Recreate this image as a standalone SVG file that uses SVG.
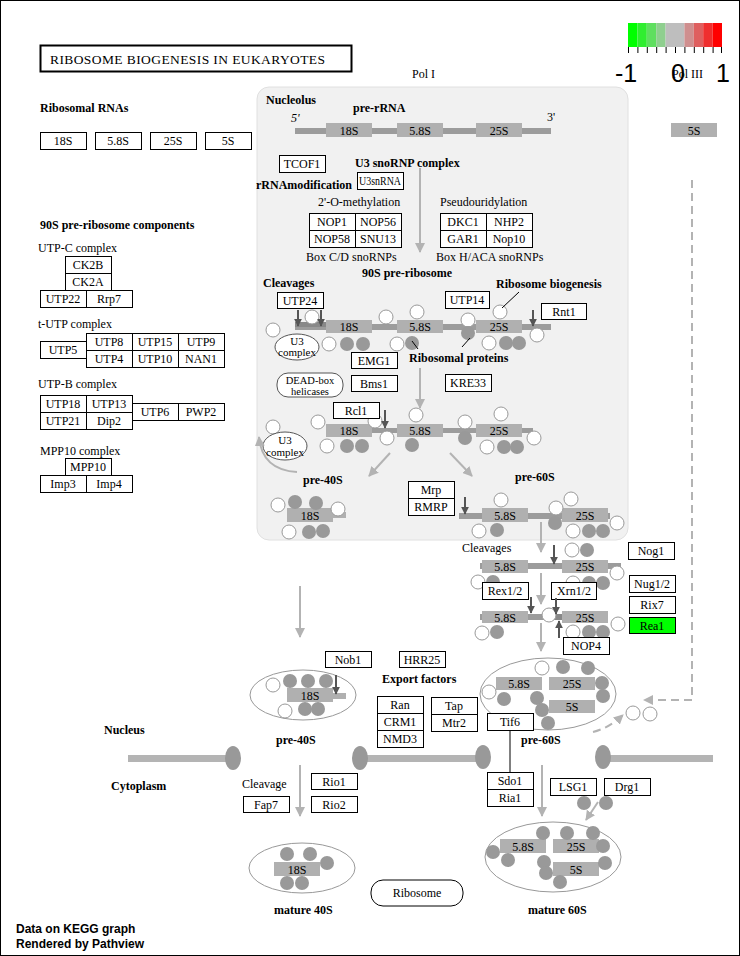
<svg xmlns="http://www.w3.org/2000/svg" width="740" height="956" viewBox="0 0 740 956">
<style>
text{font-family:"Liberation Serif",serif;font-size:12px;fill:#000}
.b{font-weight:bold}
.m{text-anchor:middle}
.s11{font-size:11px}
.s10{font-size:10.5px}
.gene rect{fill:#fff;stroke:#000;stroke-width:1}
.rna{fill:#b0b0b0}
.ln{fill:#9c9c9c}
.wc{fill:#fff;stroke:#999;stroke-width:1}
.gc{fill:#999}
.ga{stroke:#b3b3b3;stroke-width:2;fill:none;marker-end:url(#gah)}
.gd{stroke:#b3b3b3;stroke-width:2;fill:none;stroke-dasharray:8 5;marker-end:url(#gah)}
.da{stroke:#555;stroke-width:2;fill:none;marker-end:url(#dah)}
.el{fill:none;stroke:#999;stroke-width:1}
.sans{font-family:"Liberation Sans",Arial,sans-serif}
.leg{font-family:"Liberation Sans",Arial,sans-serif;font-size:25px;text-anchor:middle}
</style>
<defs>
<marker id="gah" viewBox="0 0 10 10" refX="9" refY="5" markerWidth="5" markerHeight="5" orient="auto"><path d="M0,0 L10,5 L0,10 z" fill="#b3b3b3"/></marker>
<marker id="dah" viewBox="0 0 10 10" refX="9" refY="5" markerWidth="4" markerHeight="4" orient="auto"><path d="M0,0 L10,5 L0,10 z" fill="#555"/></marker>
</defs>
<rect x="0.5" y="0.5" width="739" height="955" fill="#fff" stroke="#000"/>

<!-- Nucleolus compartment -->
<rect x="257" y="87" width="371" height="453" rx="12" fill="#f1f1f1" stroke="#e0e0e0"/>

<!-- Title -->
<g id="title"><rect x="40.5" y="45.5" width="311" height="26" fill="#fff" stroke="#000" stroke-width="2"/>
<text x="50" y="64" style="font-size:13.5px" textLength="275" lengthAdjust="spacing">RIBOSOME  BIOGENESIS  IN  EUKARYOTES</text></g>

<!-- Legend -->
<g id="legend">
<rect x="628" y="23" width="9.4" height="24" fill="#00ff00"/>
<rect x="637.4" y="23" width="9.4" height="24" fill="#30ee30"/>
<rect x="646.8" y="23" width="9.4" height="24" fill="#5fdf5f"/>
<rect x="656.2" y="23" width="9.4" height="24" fill="#8fcf8f"/>
<rect x="665.6" y="23" width="9.4" height="24" fill="#bebebe"/>
<rect x="675" y="23" width="9.4" height="24" fill="#bebebe"/>
<rect x="684.4" y="23" width="9.4" height="24" fill="#cf8f8f"/>
<rect x="693.8" y="23" width="9.4" height="24" fill="#df5f5f"/>
<rect x="703.2" y="23" width="9.4" height="24" fill="#ef2f2f"/>
<rect x="712.6" y="23" width="9.4" height="24" fill="#ff0000"/>
<path d="M628.5,47V53M637.9,47V53M647.3,47V53M656.7,47V53M666.1,47V53M675.5,47V53M684.9,47V53M694.3,47V53M703.7,47V53M713.1,47V53M721.5,47V53" stroke="#000" stroke-width="1"/>
<text class="leg" x="626" y="82">-1</text>
<text class="leg" x="678" y="82">0</text>
<text class="leg" x="723" y="82">1</text>
</g>

<!-- Labels -->
<text x="412" y="78">Pol I</text>
<text x="672" y="78">Pol III</text>
<text class="b" x="40" y="112">Ribosomal RNAs</text>
<text class="b" x="40" y="229">90S pre-ribosome components</text>
<text x="38" y="252">UTP-C complex</text>
<text x="38" y="328">t-UTP complex</text>
<text x="38" y="388">UTP-B complex</text>
<text x="40" y="455">MPP10 complex</text>
<text class="b" x="266" y="104">Nucleolus</text>
<text class="b" x="353" y="112">pre-rRNA</text>
<text x="291" y="122" font-style="italic">5'</text>
<text x="547" y="121">3'</text>
<text class="b" x="355" y="167">U3 snoRNP complex</text>
<text class="b" x="256" y="189">rRNAmodification</text>
<text x="318" y="206">2'-O-methylation</text>
<text x="440" y="206">Pseudouridylation</text>
<text x="306" y="261">Box C/D snoRNPs</text>
<text x="436" y="261">Box H/ACA snoRNPs</text>
<text class="b" x="362" y="277">90S pre-ribosome</text>
<text class="b" x="263" y="287">Cleavages</text>
<text class="b" x="496" y="288">Ribosome biogenesis</text>
<text class="b" x="409" y="362">Ribosomal proteins</text>
<text class="b" x="303" y="484">pre-40S</text>
<text class="b" x="515" y="481">pre-60S</text>
<text x="462" y="552">Cleavages</text>
<text class="b" x="382" y="683">Export factors</text>
<text class="b" x="276" y="744">pre-40S</text>
<text class="b" x="521" y="744">pre-60S</text>
<text class="b" x="104" y="734">Nucleus</text>
<text class="b" x="111" y="790">Cytoplasm</text>
<text x="242" y="788">Cleavage</text>
<text class="b" x="274" y="914">mature 40S</text>
<text class="b" x="528" y="914">mature 60S</text>
<text class="sans b" x="16" y="933" fill="#111">Data on KEGG graph</text>
<text class="sans b" x="16" y="948" fill="#111">Rendered by Pathview</text>

<!-- rRNA structures -->
<g id="prerRNA">
<rect class="ln" x="295" y="128" width="256" height="6"/>
<rect class="rna" x="326" y="123" width="46" height="14"/><text class="m" x="349" y="135">18S</text>
<rect class="rna" x="397" y="123" width="46" height="14"/><text class="m" x="420" y="135">5.8S</text>
<rect class="rna" x="476" y="123" width="46" height="14"/><text class="m" x="499" y="135">25S</text>
</g>
<g id="polIII5S"><rect class="rna" x="671" y="123" width="46" height="14"/><text class="m" x="694" y="135">5S</text></g>

<!-- 90S row 1 -->
<g id="row90S">
<rect class="ln" x="295" y="324" width="256" height="6"/>
<rect x="295" y="322" width="31" height="5" fill="#888"/>
<rect class="rna" x="326" y="320" width="46" height="13"/><text class="m" x="349" y="331">18S</text>
<rect class="rna" x="397" y="320" width="46" height="13"/><text class="m" x="420" y="331">5.8S</text>
<rect class="rna" x="476" y="320" width="46" height="13"/><text class="m" x="499" y="331">25S</text>
<circle class="wc" cx="273" cy="330" r="7"/><circle class="wc" cx="312" cy="317" r="7"/>
<circle class="wc" cx="386" cy="317" r="7"/><circle class="wc" cx="417" cy="312" r="7"/>
<circle class="wc" cx="468" cy="320" r="7"/><circle class="wc" cx="500" cy="312" r="7"/>
<circle class="gc" cx="468" cy="333" r="7"/>
<circle class="wc" cx="329" cy="344" r="7"/><circle class="gc" cx="347" cy="344" r="7"/><circle class="gc" cx="363" cy="344" r="7"/>
<circle class="wc" cx="397" cy="344" r="7"/><circle class="gc" cx="412" cy="343" r="7"/>
<circle class="wc" cx="489" cy="343" r="7"/><circle class="gc" cx="506" cy="343" r="7"/><circle class="gc" cx="519" cy="343" r="7"/>
<circle class="wc" cx="537" cy="335" r="7"/>
</g>
<g id="u3c1"><ellipse cx="297" cy="347" rx="22" ry="13" fill="#fff" stroke="#555"/><text class="m s11" x="297" y="345">U3</text><text class="m s11" x="297" y="356">complex</text></g>
<g id="deadbox"><rect x="277" y="373" width="66" height="24" rx="11" fill="#fff" stroke="#555"/><text class="m s10" x="310" y="384">DEAD-box</text><text class="m s10" x="310" y="395">helicases</text></g>

<!-- row 2 -->
<g id="row2">
<rect class="ln" x="372" y="428" width="161" height="5"/>
<rect class="rna" x="326" y="424" width="46" height="13"/><text class="m" x="349" y="435">18S</text>
<rect class="rna" x="397" y="424" width="46" height="13"/><text class="m" x="420" y="435">5.8S</text>
<rect class="rna" x="476" y="424" width="46" height="13"/><text class="m" x="499" y="435">25S</text>
<circle class="wc" cx="318" cy="422" r="7"/><circle class="wc" cx="273" cy="427" r="7"/>
<circle class="wc" cx="375" cy="421" r="7"/><circle class="wc" cx="387" cy="438" r="7"/>
<circle class="wc" cx="416" cy="415" r="7"/><circle class="gc" cx="412" cy="445" r="7"/>
<circle class="wc" cx="327" cy="446" r="7"/><circle class="gc" cx="347" cy="446" r="7"/><circle class="gc" cx="362" cy="446" r="7"/>
<circle class="wc" cx="465" cy="422" r="7"/><circle class="gc" cx="465" cy="438" r="7"/>
<circle class="wc" cx="501" cy="414" r="7"/>
<circle class="wc" cx="487" cy="447" r="7"/><circle class="gc" cx="504" cy="447" r="7"/><circle class="gc" cx="517" cy="447" r="7"/>
<circle class="wc" cx="534" cy="438" r="7"/>
</g>
<g id="u3c2"><ellipse cx="285" cy="446" rx="22" ry="14" fill="#fff" stroke="#555"/><text class="m s11" x="285" y="444">U3</text><text class="m s11" x="285" y="456">complex</text></g>

<!-- pre-40S nucleolus -->
<g id="pre40Snuc">
<rect class="rna" x="333" y="512" width="13" height="6"/>
<rect class="rna" x="287" y="508" width="46" height="14"/><text class="m" x="310" y="520">18S</text>
<circle class="wc" cx="278" cy="505" r="7"/><circle class="gc" cx="295" cy="502" r="7"/><circle class="gc" cx="316" cy="503" r="7"/><circle class="wc" cx="338" cy="509" r="7"/>
<circle class="wc" cx="289" cy="532" r="7"/><circle class="gc" cx="309" cy="532" r="7"/><circle class="gc" cx="323" cy="531" r="7"/>
</g>
<!-- pre-60S nucleolus -->
<g id="pre60Snuc">
<rect class="ln" x="459" y="513" width="151" height="6"/>
<rect class="rna" x="482" y="508" width="46" height="14"/><text class="m" x="505" y="520">5.8S</text>
<rect class="rna" x="562" y="508" width="46" height="14"/><text class="m" x="585" y="520">25S</text>
<circle class="wc" cx="501" cy="500" r="7"/><circle class="wc" cx="556" cy="508" r="7"/><circle class="wc" cx="571" cy="499" r="7"/>
<circle class="gc" cx="555" cy="523" r="7"/><circle class="wc" cx="617" cy="523" r="7"/>
<circle class="wc" cx="479" cy="531" r="7"/><circle class="gc" cx="497" cy="530" r="7"/>
<circle class="wc" cx="573" cy="531" r="7"/><circle class="gc" cx="589" cy="531" r="7"/><circle class="gc" cx="603" cy="531" r="7"/>
</g>

<!-- nuclear pre-60S rows -->
<g id="rowA">
<rect class="ln" x="480" y="563" width="141" height="6"/>
<rect class="rna" x="482" y="560" width="46" height="13"/><text class="m" x="505" y="571">5.8S</text>
<rect class="rna" x="562" y="560" width="46" height="13"/><text class="m" x="585" y="571">25S</text>
<circle class="wc" cx="572" cy="550" r="7"/><circle class="gc" cx="587" cy="550" r="7"/><circle class="wc" cx="617" cy="573" r="7"/>
<circle class="wc" cx="478" cy="582" r="7"/><circle class="gc" cx="493" cy="582" r="7"/>
<circle class="wc" cx="573" cy="583" r="7"/><circle class="gc" cx="589" cy="583" r="7"/><circle class="gc" cx="603" cy="583" r="7"/>
</g>
<g id="rowB">
<rect class="ln" x="480" y="614" width="71" height="6"/>
<rect x="551" y="614" width="11" height="6" fill="#888"/>
<rect class="rna" x="482" y="611" width="46" height="12"/><text class="m" x="505" y="622">5.8S</text>
<rect class="rna" x="562" y="611" width="46" height="12"/><text class="m" x="585" y="622">25S</text>
<circle class="wc" cx="549" cy="615" r="7"/><circle class="wc" cx="618" cy="624" r="7"/>
<circle class="wc" cx="482" cy="633" r="7"/><circle class="gc" cx="497" cy="632" r="7"/>
<circle class="wc" cx="573" cy="632" r="7"/><circle class="gc" cx="589" cy="632" r="7"/><circle class="gc" cx="603" cy="632" r="7"/>
</g>

<!-- nuclear pre-40S -->
<g id="pre40S">
<ellipse class="el" cx="303" cy="695" rx="53" ry="25"/>
<rect class="rna" x="333" y="693" width="13" height="6"/>
<rect class="rna" x="287" y="688" width="46" height="14"/><text class="m" x="310" y="700">18S</text>
<circle class="wc" cx="273" cy="685" r="7"/><circle class="gc" cx="290" cy="681" r="7"/><circle class="gc" cx="308" cy="681" r="7"/><circle class="gc" cx="326" cy="681" r="7"/>
<circle class="wc" cx="285" cy="711" r="7"/><circle class="gc" cx="305" cy="709" r="7"/><circle class="gc" cx="318" cy="709" r="7"/>
</g>
<!-- nuclear pre-60S -->
<g id="pre60S">
<ellipse class="el" cx="548" cy="694" rx="68" ry="36"/>
<rect class="rna" x="496" y="677" width="46" height="13"/><text class="m" x="519" y="688">5.8S</text>
<rect class="rna" x="549" y="677" width="46" height="13"/><text class="m" x="572" y="688">25S</text>
<rect class="rna" x="549" y="700" width="46" height="13"/><text class="m" x="572" y="711">5S</text>
<circle class="wc" cx="542" cy="668" r="7"/><circle class="gc" cx="563" cy="667" r="7"/><circle class="gc" cx="588" cy="668" r="7"/>
<circle class="gc" cx="602" cy="683" r="7"/><circle class="gc" cx="603" cy="696" r="7"/>
<circle class="wc" cx="489" cy="692" r="7"/><circle class="gc" cx="504" cy="699" r="7"/><circle class="gc" cx="537" cy="698" r="7"/>
<circle class="gc" cx="542" cy="710" r="7"/><circle class="gc" cx="548" cy="723" r="7"/>
</g>
<circle class="wc" cx="633" cy="713" r="7"/><circle class="wc" cx="650" cy="714" r="7"/>

<!-- nuclear membrane -->
<g id="membrane" fill="#b4b4b4">
<rect x="128" y="755" width="100" height="7"/>
<rect x="365" y="755" width="112" height="7"/>
<rect x="608" y="755" width="105" height="7"/>
<ellipse cx="233" cy="758" rx="8" ry="12" fill="#999"/>
<ellipse cx="360" cy="758" rx="8" ry="12" fill="#999"/>
<ellipse cx="483" cy="757" rx="8" ry="12" fill="#999"/>
<ellipse cx="603" cy="757" rx="8" ry="12" fill="#999"/>
</g>

<!-- mature 40S -->
<g id="mature40S">
<ellipse class="el" cx="302" cy="868" rx="53" ry="25"/>
<rect class="rna" x="274" y="862" width="46" height="14"/><text class="m" x="297" y="874">18S</text>
<circle class="gc" cx="287" cy="854" r="7"/><circle class="gc" cx="310" cy="854" r="7"/><circle class="gc" cx="327" cy="863" r="7"/>
<circle class="gc" cx="287" cy="883" r="7"/><circle class="gc" cx="302" cy="883" r="7"/>
</g>
<!-- mature 60S -->
<g id="mature60S">
<ellipse class="el" cx="553" cy="857" rx="68" ry="35"/>
<rect class="rna" x="500" y="839" width="46" height="14"/><text class="m" x="523" y="851">5.8S</text>
<rect class="rna" x="553" y="839" width="46" height="14"/><text class="m" x="576" y="851">25S</text>
<rect class="rna" x="553" y="862" width="46" height="14"/><text class="m" x="576" y="874">5S</text>
<circle class="gc" cx="543" cy="833" r="7"/><circle class="gc" cx="567" cy="833" r="7"/><circle class="gc" cx="593" cy="833" r="7"/>
<circle class="gc" cx="493" cy="852" r="7"/><circle class="gc" cx="603" cy="846" r="7"/>
<circle class="gc" cx="508" cy="860" r="7"/><circle class="gc" cx="544" cy="862" r="7"/><circle class="gc" cx="546" cy="873" r="7"/>
<circle class="gc" cx="605" cy="863" r="7"/><circle class="gc" cx="560" cy="882" r="7"/>
</g>
<circle class="gc" cx="584" cy="803" r="7"/><circle class="gc" cx="606" cy="803" r="7"/>
<g id="ribosome"><rect x="371" y="880" width="92" height="26" rx="12" fill="#fff" stroke="#000"/><text class="m" x="417" y="897">Ribosome</text></g>

<!-- gene nodes -->
<g class="gene">
<g id="r18S"><rect x="40.5" y="132.5" width="46" height="17"/><text class="m" x="63" y="145">18S</text></g>
<g id="r58S"><rect x="95.5" y="132.5" width="46" height="17"/><text class="m" x="118" y="145">5.8S</text></g>
<g id="r25S"><rect x="150.5" y="132.5" width="46" height="17"/><text class="m" x="173" y="145">25S</text></g>
<g id="r5S"><rect x="205.5" y="132.5" width="46" height="17"/><text class="m" x="228" y="145">5S</text></g>

<g id="CK2B"><rect x="65.5" y="256.5" width="46" height="17"/><text class="m" x="88" y="269">CK2B</text></g>
<g id="CK2A"><rect x="65.5" y="273.5" width="46" height="17"/><text class="m" x="88" y="286">CK2A</text></g>
<g id="UTP22"><rect x="40.5" y="290.5" width="46" height="17"/><text class="m" x="63" y="303">UTP22</text></g>
<g id="Rrp7"><rect x="86.5" y="290.5" width="46" height="17"/><text class="m" x="109" y="303">Rrp7</text></g>

<g id="UTP5"><rect x="40.5" y="341.5" width="46" height="17"/><text class="m" x="63" y="354">UTP5</text></g>
<g id="UTP8"><rect x="86.5" y="333.5" width="46" height="17"/><text class="m" x="109" y="346">UTP8</text></g>
<g id="UTP15"><rect x="132.5" y="333.5" width="46" height="17"/><text class="m" x="155" y="346">UTP15</text></g>
<g id="UTP9"><rect x="178.5" y="333.5" width="46" height="17"/><text class="m" x="201" y="346">UTP9</text></g>
<g id="UTP4"><rect x="86.5" y="350.5" width="46" height="17"/><text class="m" x="109" y="363">UTP4</text></g>
<g id="UTP10"><rect x="132.5" y="350.5" width="46" height="17"/><text class="m" x="155" y="363">UTP10</text></g>
<g id="NAN1"><rect x="178.5" y="350.5" width="46" height="17"/><text class="m" x="201" y="363">NAN1</text></g>

<g id="UTP18"><rect x="40.5" y="395.5" width="46" height="17"/><text class="m" x="63" y="408">UTP18</text></g>
<g id="UTP13"><rect x="86.5" y="395.5" width="46" height="17"/><text class="m" x="109" y="408">UTP13</text></g>
<g id="UTP21"><rect x="40.5" y="412.5" width="46" height="17"/><text class="m" x="63" y="425">UTP21</text></g>
<g id="Dip2"><rect x="86.5" y="412.5" width="46" height="17"/><text class="m" x="109" y="425">Dip2</text></g>
<g id="UTP6"><rect x="132.5" y="403.5" width="46" height="17"/><text class="m" x="155" y="416">UTP6</text></g>
<g id="PWP2"><rect x="178.5" y="403.5" width="46" height="17"/><text class="m" x="201" y="416">PWP2</text></g>

<g id="MPP10"><rect x="65.5" y="458.5" width="46" height="17"/><text class="m" x="88" y="471">MPP10</text></g>
<g id="Imp3"><rect x="40.5" y="475.5" width="46" height="17"/><text class="m" x="63" y="488">Imp3</text></g>
<g id="Imp4"><rect x="86.5" y="475.5" width="46" height="17"/><text class="m" x="109" y="488">Imp4</text></g>

<g id="TCOF1"><rect x="279.5" y="155.5" width="46" height="17"/><text class="m" x="302" y="168">TCOF1</text></g>
<g id="U3snRNA"><rect x="357.5" y="172.5" width="46" height="17"/><text x="359" y="185" textLength="42" lengthAdjust="spacingAndGlyphs">U3snRNA</text></g>
<g id="NOP1"><rect x="309.5" y="213.5" width="46" height="17"/><text class="m" x="332" y="226">NOP1</text></g>
<g id="NOP56"><rect x="355.5" y="213.5" width="46" height="17"/><text class="m" x="378" y="226">NOP56</text></g>
<g id="NOP58"><rect x="309.5" y="230.5" width="46" height="17"/><text class="m" x="332" y="243">NOP58</text></g>
<g id="SNU13"><rect x="355.5" y="230.5" width="46" height="17"/><text class="m" x="378" y="243">SNU13</text></g>
<g id="DKC1"><rect x="440.5" y="213.5" width="46" height="17"/><text class="m" x="463" y="226">DKC1</text></g>
<g id="NHP2"><rect x="486.5" y="213.5" width="46" height="17"/><text class="m" x="509" y="226">NHP2</text></g>
<g id="GAR1"><rect x="440.5" y="230.5" width="46" height="17"/><text class="m" x="463" y="243">GAR1</text></g>
<g id="Nop10"><rect x="486.5" y="230.5" width="46" height="17"/><text class="m" x="509" y="243">Nop10</text></g>
<g id="UTP24"><rect x="277.5" y="292.5" width="46" height="16"/><text class="m" x="300" y="305">UTP24</text></g>
<g id="UTP14"><rect x="445.5" y="291.5" width="44" height="17"/><text class="m" x="467" y="304">UTP14</text></g>
<g id="Rnt1"><rect x="541.5" y="303.5" width="45" height="16"/><text class="m" x="564" y="316">Rnt1</text></g>
<g id="EMG1"><rect x="351.5" y="352.5" width="46" height="16"/><text class="m" x="374" y="365">EMG1</text></g>
<g id="Bms1"><rect x="351.5" y="375.5" width="46" height="16"/><text class="m" x="374" y="388">Bms1</text></g>
<g id="KRE33"><rect x="445.5" y="374.5" width="46" height="17"/><text class="m" x="468" y="387">KRE33</text></g>
<g id="Rcl1"><rect x="333.5" y="402.5" width="46" height="16"/><text class="m" x="356" y="415">Rcl1</text></g>
<g id="Mrp"><rect x="408.5" y="481.5" width="46" height="17"/><text class="m" x="431" y="494">Mrp</text></g>
<g id="RMRP"><rect x="408.5" y="498.5" width="46" height="17"/><text class="m" x="431" y="511">RMRP</text></g>
<g id="Nog1"><rect x="628.5" y="542.5" width="46" height="17"/><text class="m" x="651" y="555">Nog1</text></g>
<g id="Nug12"><rect x="629.5" y="575.5" width="46" height="17"/><text class="m" x="652" y="588">Nug1/2</text></g>
<g id="Rix7"><rect x="629.5" y="596.5" width="46" height="17"/><text class="m" x="652" y="609">Rix7</text></g>
<g id="Rea1"><rect x="629.5" y="617.5" width="46" height="16" style="fill:#00ff00"/><text class="m" x="652" y="630">Rea1</text></g>
<g id="Rex12"><rect x="482.5" y="582.5" width="46" height="17"/><text class="m" x="505" y="595">Rex1/2</text></g>
<g id="Xrn12"><rect x="551.5" y="582.5" width="45" height="17"/><text class="m" x="574" y="595">Xrn1/2</text></g>
<g id="NOP4"><rect x="563.5" y="637.5" width="46" height="17"/><text class="m" x="586" y="650">NOP4</text></g>
<g id="Nob1"><rect x="325.5" y="651.5" width="46" height="16"/><text class="m" x="348" y="664">Nob1</text></g>
<g id="HRR25"><rect x="399.5" y="651.5" width="46" height="16"/><text class="m" x="422" y="664">HRR25</text></g>
<g id="Ran"><rect x="377.5" y="696.5" width="46" height="17"/><text class="m" x="400" y="709">Ran</text></g>
<g id="CRM1"><rect x="377.5" y="713.5" width="46" height="17"/><text class="m" x="400" y="726">CRM1</text></g>
<g id="NMD3"><rect x="377.5" y="730.5" width="46" height="17"/><text class="m" x="400" y="743">NMD3</text></g>
<g id="Tap"><rect x="431.5" y="697.5" width="46" height="17"/><text class="m" x="454" y="710">Tap</text></g>
<g id="Mtr2"><rect x="431.5" y="714.5" width="46" height="17"/><text class="m" x="454" y="727">Mtr2</text></g>
<g id="Tif6"><rect x="487.5" y="713.5" width="46" height="17"/><text class="m" x="510" y="726">Tif6</text></g>
<g id="Sdo1"><rect x="487.5" y="772.5" width="46" height="17"/><text class="m" x="510" y="785">Sdo1</text></g>
<g id="Ria1"><rect x="487.5" y="789.5" width="46" height="17"/><text class="m" x="510" y="802">Ria1</text></g>
<g id="Rio1"><rect x="311.5" y="773.5" width="46" height="16"/><text class="m" x="334" y="786">Rio1</text></g>
<g id="Rio2"><rect x="311.5" y="796.5" width="46" height="16"/><text class="m" x="334" y="809">Rio2</text></g>
<g id="Fap7"><rect x="243.5" y="796.5" width="46" height="16"/><text class="m" x="266" y="809">Fap7</text></g>
<g id="LSG1"><rect x="550.5" y="778.5" width="46" height="17"/><text class="m" x="573" y="791">LSG1</text></g>
<g id="Drg1"><rect x="604.5" y="778.5" width="46" height="17"/><text class="m" x="627" y="791">Drg1</text></g>
</g>

<!-- connectors -->
<g id="connectors">
<path class="ga" d="M420,168V252"/>
<path class="ga" d="M420,368V408"/>
<path class="ga" d="M390,453L369,476"/>
<path class="ga" d="M450,453L472,476"/>
<path class="ga" d="M297,472Q262,470 259,437"/>
<path class="ga" d="M300,586V637"/>
<path class="ga" d="M541,522V552"/>
<path class="ga" d="M541,573V604"/>
<path class="ga" d="M541,623V651"/>
<path class="ga" d="M300,765V816"/>
<path class="ga" d="M542,765V816"/>
<path class="ga" d="M598,802L586,820"/>
<path class="gd" d="M692,180V700H644"/>
<path class="gd" d="M593,732Q609,728 623,715"/>
<path class="da" d="M298,310V326"/>
<path class="da" d="M321,310V326"/>
<path class="da" d="M533,310V326"/>
<path class="da" d="M385,410V428"/>
<path class="da" d="M465,497V514"/>
<path class="da" d="M554,545V564"/>
<path class="da" d="M531,597V613"/>
<path class="da" d="M556,598V614"/>
<path class="da" d="M559,638V621"/>
<path class="da" d="M336,675V694"/>
<path d="M510,730V772" stroke="#000" stroke-width="1"/>
<path d="M412,341L418,349M462,347L470,338M519,292L502,308" stroke="#000" stroke-width="1"/>
</g>
</svg>
